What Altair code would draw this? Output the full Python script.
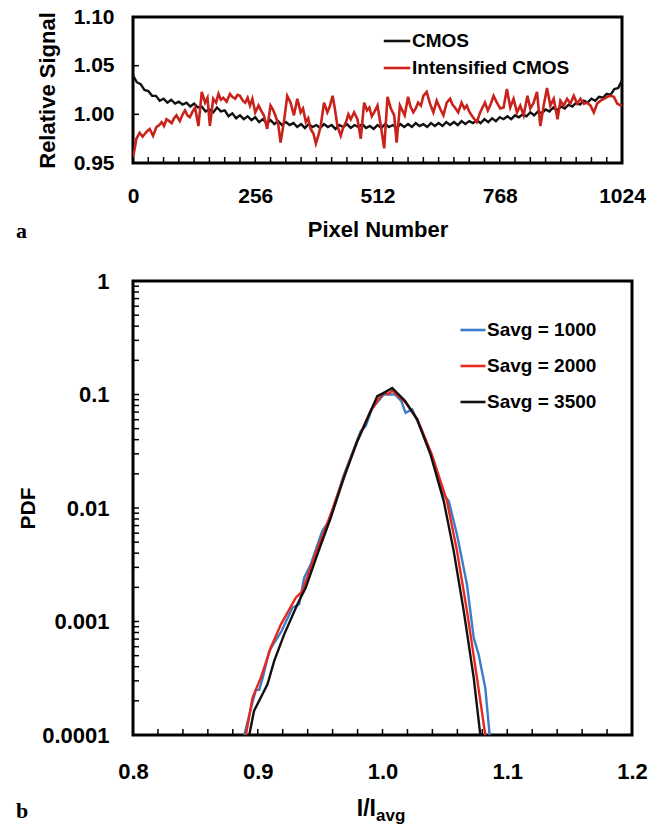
import altair as alt
import pandas as pd

SANS = "Liberation Sans"
SERIF = "Liberation Serif"

# ---------------- Panel a data ----------------
cmos_px = list(range(0, 1025, 8))
cmos_sig = [
    1.040, 1.033, 1.031, 1.025, 1.024, 1.019, 1.019, 1.014,
    1.016, 1.012, 1.015, 1.011, 1.013, 1.010, 1.012, 1.008,
    1.011, 1.007, 1.008, 1.003, 1.005, 1.002, 1.007, 1.003,
    1.004, 0.998, 1.001, 0.996, 0.999, 0.995, 0.998, 0.994,
    0.997, 0.992, 0.995, 0.991, 0.994, 0.990, 0.993, 0.989,
    0.992, 0.989, 0.991, 0.987, 0.990, 0.986, 0.990, 0.987,
    0.989, 0.986, 0.990, 0.987, 0.989, 0.985, 0.989, 0.987,
    0.990, 0.986, 0.989, 0.987, 0.990, 0.986, 0.988, 0.985,
    0.989, 0.986, 0.990, 0.987, 0.989, 0.986, 0.990, 0.987,
    0.990, 0.987, 0.991, 0.988, 0.990, 0.987, 0.991, 0.988,
    0.991, 0.988, 0.992, 0.989, 0.992, 0.989, 0.993, 0.990,
    0.993, 0.991, 0.994, 0.991, 0.995, 0.992, 0.996, 0.993,
    0.997, 0.995, 0.998, 0.995, 0.999, 0.997, 1.000, 0.998,
    1.002, 0.999, 1.003, 1.001, 1.005, 1.003, 1.007, 1.004,
    1.008, 1.006, 1.010, 1.008, 1.012, 1.010, 1.014, 1.012,
    1.016, 1.014, 1.018, 1.017, 1.021, 1.020, 1.026, 1.027,
    1.035,
]

icmos_px = [
    0, 4, 7, 14, 20, 25, 30, 35, 42, 49,
    55, 60, 65, 70, 76, 81, 86, 91, 98, 104,
    109, 114, 119, 125, 130, 137, 144, 151, 156, 161,
    168, 174, 179, 184, 189, 196, 203, 208, 214, 219,
    224, 230, 235, 240, 245, 250, 256, 263, 268, 274,
    281, 288, 293, 298, 304, 309, 316, 323, 330, 337,
    344, 351, 356, 362, 367, 372, 378, 383, 388, 393,
    400, 407, 412, 418, 423, 428, 435, 440, 446, 451,
    456, 463, 470, 477, 484, 490, 495, 500, 505, 512,
    519, 526, 533, 540, 547, 552, 559, 564, 569, 576,
    581, 587, 592, 597, 603, 608, 615, 622, 629, 636,
    643, 650, 657, 664, 669, 674, 681, 688, 694, 699,
    704, 709, 715, 720, 727, 732, 737, 743, 748, 755,
    762, 769, 776, 783, 790, 797, 804, 811, 818, 826,
    832, 839, 846, 853, 860, 867, 874, 881, 889, 895,
    902, 909, 916, 923, 930, 937, 944, 951, 958, 965,
    972, 979, 986, 993, 1000, 1007, 1014, 1021, 1024,
]
icmos_sig = [
    0.956, 0.966, 0.975, 0.981, 0.977, 0.980, 0.983, 0.985, 0.978, 0.987,
    0.989, 0.992, 0.988, 0.995, 0.993, 0.991, 0.996, 0.999, 0.993, 1.000,
    1.004, 0.999, 0.997, 1.003, 1.007, 0.988, 1.023, 1.012, 1.017, 0.988,
    1.016, 1.012, 1.021, 1.015, 1.017, 1.013, 1.021, 1.018, 1.016, 1.020,
    1.019, 1.014, 1.012, 1.017, 1.009, 1.016, 1.002, 1.009, 1.004, 0.999,
    0.985, 1.009, 1.005, 0.999, 0.990, 0.971, 0.992, 1.019, 1.012, 0.999,
    1.016, 1.002, 1.006, 0.992, 0.996, 0.985, 0.980, 0.970, 0.978, 0.988,
    1.012, 1.002, 1.008, 1.019, 1.005, 0.988, 0.978, 0.986, 0.992, 1.000,
    0.995, 1.002, 0.995, 0.975, 1.012, 1.004, 1.007, 0.998, 1.002, 1.009,
    0.988, 0.965, 1.018, 1.006, 0.999, 0.971, 1.009, 1.004, 0.999, 1.018,
    1.008, 1.002, 1.006, 1.012, 1.009, 1.019, 1.023, 1.011, 1.002, 1.014,
    1.006, 0.999, 1.012, 1.016, 1.010, 1.007, 1.002, 1.012, 1.006, 1.009,
    1.003, 0.999, 0.995, 0.992, 1.002, 1.007, 1.012, 1.004, 1.009, 1.019,
    1.012, 1.006, 1.007, 1.026, 1.007, 1.016, 1.002, 1.009, 0.999, 1.019,
    1.006, 1.012, 1.023, 0.988, 1.009, 1.027, 1.009, 1.016, 0.995, 1.014,
    1.009, 1.016, 1.011, 1.019, 1.011, 1.016, 1.011, 1.012, 1.009, 1.002,
    1.011, 1.014, 1.016, 1.018, 1.019, 1.018, 1.011, 1.009, 1.010,
]

top_series = ["CMOS", "Intensified CMOS"]
top_colors = ["#111111", "#c8221b"]
top_x_labels = [0, 256, 512, 768, 1024]
top_y_labels = [0.95, 1.00, 1.05, 1.10]
top_x_minor = list(range(32, 1024, 32))
top_y_minor = [1.00, 1.05]

# ---------------- Panel b data ----------------
s1000_x = [0.8892, 0.8950, 0.8985, 0.9012, 0.9040, 0.9092, 0.9158, 0.9190, 0.9278, 0.9332,
           0.9372, 0.9425, 0.9518, 0.9572, 0.9691, 0.9825, 0.9865, 0.9918, 1.0011, 1.0100,
           1.0150, 1.0185, 1.0238, 1.0318, 1.0411, 1.0491, 1.0531, 1.0597, 1.0677, 1.0731,
           1.0771, 1.0824, 1.0859]
s1000_y = [1.0e-4, 1.8e-4, 2.5e-4, 2.5e-4, 3.2e-4, 5.5e-4, 7.2e-4, 8.2e-4, 1.32e-3, 1.42e-3,
           2.43e-3, 3.2e-3, 6.3e-3, 7.7e-3, 0.0197, 0.0475, 0.0526, 0.0762, 0.100, 0.100,
           0.088, 0.0689, 0.0739, 0.0475, 0.0259, 0.0131, 0.0115, 5.85e-3, 2.12e-3, 7.2e-4,
           5.1e-4, 2.6e-4, 1.0e-4]

s2000_x = [0.8905, 0.8958, 0.9025, 0.9105, 0.9185, 0.9305, 0.9358, 0.9450, 0.9585, 0.9691,
           0.9798, 0.9905, 0.9985, 1.0011, 1.0045, 1.0078, 1.0185, 1.0278, 1.0395, 1.0517,
           1.0597, 1.0677, 1.0757, 1.0824]
s2000_y = [1.0e-4, 2.13e-4, 3.2e-4, 5.9e-4, 9.4e-4, 1.62e-3, 1.85e-3, 3.6e-3, 8.8e-3, 0.019,
           0.039, 0.072, 0.096, 0.1033, 0.101, 0.108, 0.085, 0.061, 0.0296, 0.0115,
           4.2e-3, 1.24e-3, 3.2e-4, 1.0e-4]

s3500_x = [0.8932, 0.8970, 0.9078, 0.9132, 0.9212, 0.9318, 0.9385, 0.9478, 0.9585, 0.9691,
           0.9798, 0.9905, 0.9958, 1.0011, 1.0078, 1.0180, 1.0278, 1.0385, 1.0491, 1.0571,
           1.0651, 1.0731, 1.0784]
s3500_y = [1.0e-4, 1.63e-4, 2.8e-4, 4.5e-4, 7.7e-4, 1.42e-3, 1.99e-3, 3.9e-3, 8.2e-3, 0.0185,
           0.0388, 0.0713, 0.0966, 0.1033, 0.114, 0.088, 0.0601, 0.0296, 0.0115, 4.17e-3,
           1.24e-3, 3.2e-4, 1.0e-4]

bot_series = ["Savg = 1000", "Savg = 2000", "Savg = 3500"]
bot_colors = ["#3b7dc8", "#e8281c", "#111111"]
bot_x_labels = [0.8, 0.9, 1.0, 1.1, 1.2]
bot_y_labels = [0.0001, 0.001, 0.01, 0.1, 1]
bot_x_minor = [0.82, 0.84, 0.86, 0.88, 0.90, 0.92, 0.94, 0.96, 0.98, 1.00,
               1.02, 1.04, 1.06, 1.08, 1.10, 1.12, 1.14, 1.16, 1.18]
bot_y_minor = [m * 10.0 ** e for e in (-4, -3, -2, -1) for m in range(2, 10)] + [0.001, 0.01, 0.1]

# ---------------- sizes ----------------
TW, TH = 489, 146
BW, BH = 499, 454

# ---------------- Panel a ----------------
df_cmos = pd.DataFrame({"pixel": cmos_px, "signal": cmos_sig, "series": top_series[0]})
df_icmos = pd.DataFrame({"pixel": icmos_px, "signal": icmos_sig, "series": top_series[1]})

xs_top = alt.Scale(domain=[0, 1024], nice=False)
ys_top = alt.Scale(domain=[0.95, 1.10], nice=False)
color_top = alt.Color(
    "series:N",
    scale=alt.Scale(domain=top_series, range=top_colors),
    legend=alt.Legend(
        title=None, orient="none", legendX=249, legendY=9,
        symbolType="stroke", symbolSize=700, symbolStrokeWidth=2.6,
        labelFont=SANS, labelFontSize=19, labelFontWeight="bold", labelColor="black",
        labelOffset=0, rowPadding=2,
    ),
)

x_top = alt.X("pixel:Q", scale=xs_top, axis=alt.Axis(
    values=top_x_labels, format="d", title="Pixel Number", labelPadding=22, titlePadding=13,
    labelFlush=False, labelOverlap=False, labelFontSize=21, titleFontSize=22))
y_top = alt.Y("signal:Q", scale=ys_top, axis=alt.Axis(
    values=top_y_labels, format=".2f", title="Relative Signal", labelPadding=19,
    titlePadding=14, labelFontSize=21, titleFontSize=22))

l_cmos = alt.Chart(df_cmos).mark_line(strokeWidth=2.4, clip=True).encode(
    x=x_top, y=y_top, color=color_top)
l_icmos = alt.Chart(df_icmos).mark_line(strokeWidth=2.6, clip=True).encode(
    x=x_top, y=y_top, color=color_top)

tx_top = alt.Chart(pd.DataFrame({"v": top_x_minor})).mark_rule(color="black", strokeWidth=1.5).encode(
    x=alt.X("v:Q", scale=xs_top), y=alt.value(TH), y2=alt.value(TH - 6))
ty_top = alt.Chart(pd.DataFrame({"v": top_y_minor})).mark_rule(color="black", strokeWidth=1.5).encode(
    y=alt.Y("v:Q", scale=ys_top), x=alt.value(0), x2=alt.value(6))
lab_a = alt.Chart(pd.DataFrame({"t": ["a"]})).mark_text(
    font=SERIF, fontSize=22, fontWeight="bold", align="left", baseline="middle", color="black"
).encode(text="t:N", x=alt.value(-117), y=alt.value(TH + 68))

top = alt.layer(l_cmos, l_icmos, tx_top, ty_top, lab_a).properties(width=TW, height=TH)

# ---------------- Panel b ----------------
df_b = pd.concat([
    pd.DataFrame({"ratio": s1000_x, "pdf": s1000_y, "series": bot_series[0]}),
    pd.DataFrame({"ratio": s2000_x, "pdf": s2000_y, "series": bot_series[1]}),
    pd.DataFrame({"ratio": s3500_x, "pdf": s3500_y, "series": bot_series[2]}),
])

xs_bot = alt.Scale(domain=[0.8, 1.2], nice=False)
ys_bot = alt.Scale(type="log", domain=[0.0001, 1], nice=False)
color_bot = alt.Color(
    "series:N",
    scale=alt.Scale(domain=bot_series, range=bot_colors),
    legend=alt.Legend(
        title=None, orient="none", legendX=326, legendY=35,
        symbolType="stroke", symbolSize=625, symbolStrokeWidth=2.6,
        labelFont=SANS, labelFontSize=19, labelFontWeight="bold", labelColor="black",
        labelOffset=0, rowPadding=12,
    ),
)
x_bot = alt.X("ratio:Q", scale=xs_bot, axis=alt.Axis(
    values=bot_x_labels, format=".1f", title=None, labelPadding=26,
    labelFlush=False, labelOverlap=False, labelFontSize=22))
y_bot = alt.Y("pdf:Q", scale=ys_bot, axis=alt.Axis(
    values=bot_y_labels, format="~g", title="PDF", labelPadding=24, titlePadding=3,
    labelFontSize=22, titleFontSize=21))

lines_b = []
for s in bot_series:
    lines_b.append(
        alt.Chart(df_b[df_b["series"] == s]).mark_line(strokeWidth=2.4, clip=True).encode(
            x=x_bot, y=y_bot, color=color_bot)
    )

tx_bot = alt.Chart(pd.DataFrame({"v": bot_x_minor})).mark_rule(color="black", strokeWidth=1.5).encode(
    x=alt.X("v:Q", scale=xs_bot), y=alt.value(BH), y2=alt.value(BH - 6))
ty_bot = alt.Chart(pd.DataFrame({"v": bot_y_minor})).mark_rule(color="black", strokeWidth=1.5).encode(
    y=alt.Y("v:Q", scale=ys_bot), x=alt.value(0), x2=alt.value(6))
title_b1 = alt.Chart(pd.DataFrame({"t": ["I/I"]})).mark_text(
    font=SANS, fontSize=23, fontWeight="bold", align="right", baseline="middle", color="black"
).encode(text="t:N", x=alt.value(243), y=alt.value(BH + 74))
title_b2 = alt.Chart(pd.DataFrame({"t": ["avg"]})).mark_text(
    font=SANS, fontSize=17, fontWeight="bold", align="left", baseline="middle", color="black"
).encode(text="t:N", x=alt.value(243), y=alt.value(BH + 81))
lab_b = alt.Chart(pd.DataFrame({"t": ["b"]})).mark_text(
    font=SERIF, fontSize=22, fontWeight="bold", align="left", baseline="middle", color="black"
).encode(text="t:N", x=alt.value(-117), y=alt.value(BH + 76))

bottom = alt.layer(*lines_b, tx_bot, ty_bot, title_b1, title_b2, lab_b).properties(width=BW, height=BH)

chart = alt.vconcat(top, bottom, spacing=24).resolve_scale(
    color="independent", x="independent", y="independent"
).properties(
    padding={"left": 14, "top": 4, "right": 5, "bottom": 5},
    background="white",
).configure_view(
    stroke="black", strokeWidth=3
).configure_axis(
    domain=False, ticks=False, grid=False,
    labelFont=SANS, labelFontWeight="bold", labelColor="black",
    titleFont=SANS, titleFontWeight="bold", titleColor="black",
)

chart.save("out.html", embed_options={"renderer": "svg", "actions": False})
